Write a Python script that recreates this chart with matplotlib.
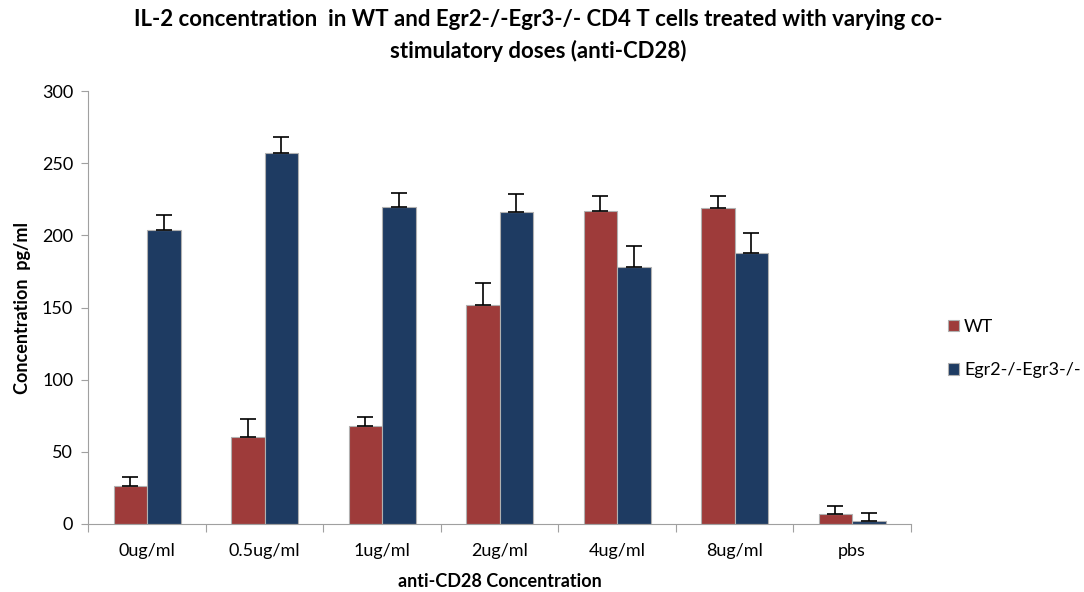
import numpy as np
from matplotlib import pyplot as plt

doses = ['0ug/ml', '0.5ug/ml', '1ug/ml', '2ug/ml', '4ug/ml', '8ug/ml', 'pbs']
wt = [26.5, 60, 68, 152, 217, 219, 6.7]
wt_err = [6, 13, 6, 15, 10, 8, 5.6]
ko = [203.5, 257, 220, 216, 178, 188, 2.3]
ko_err = [11, 11, 9.5, 13, 15, 14, 5]

plt.rcParams['font.family'] = ['Lato', 'DejaVu Sans']

fig = plt.figure(figsize=(10.84, 5.92), dpi=100)
ax = fig.add_axes([0.0816, 0.115, 0.7587, 0.731])

x = np.arange(len(doses))
w = 0.285
red = '#9E3B3A'
blue = '#1E3B62'

ax.bar(x - w / 2, wt, w, color=red, edgecolor='#B0B0B0', linewidth=0.8, label='WT', zorder=2)
ax.bar(x + w / 2, ko, w, color=blue, edgecolor='#B0B0B0', linewidth=0.8, label='Egr2-/-Egr3-/-', zorder=2)
ax.errorbar(x - w / 2, wt, yerr=[np.zeros(len(wt)), wt_err], fmt='none', ecolor='black',
            elinewidth=1.2, capsize=6, capthick=1.2, zorder=3)
ax.errorbar(x + w / 2, ko, yerr=[np.zeros(len(ko)), ko_err], fmt='none', ecolor='black',
            elinewidth=1.2, capsize=6, capthick=1.2, zorder=3)

ax.set_xlim(-0.5, len(doses) - 0.5)
ax.set_ylim(0, 300)
ax.set_yticks(range(0, 301, 50))
ax.set_xticks(np.arange(len(doses) + 1) - 0.5)
ax.set_xticklabels([])
ax.set_xticks(x, minor=True)
ax.set_xticklabels(doses, minor=True)
ax.tick_params(axis='x', which='major', direction='out', length=6, color='#A0A0A0')
ax.tick_params(axis='x', which='minor', length=0, pad=14, labelsize=13)
ax.tick_params(axis='y', direction='out', length=5, color='#A0A0A0', labelsize=13, pad=6)

for s in ['top', 'right']:
    ax.spines[s].set_visible(False)
for s in ['left', 'bottom']:
    ax.spines[s].set_color('#A0A0A0')

ax.set_xlabel('anti-CD28 Concentration', fontsize=13, fontweight='bold', labelpad=10)
ax.set_ylabel('Concentration  pg/ml', fontsize=13, fontweight='bold', labelpad=8)
fig.suptitle('IL-2 concentration  in WT and Egr2-/-Egr3-/- CD4 T cells treated with varying co-\n'
             'stimulatory doses (anti-CD28)', fontsize=16, fontweight='bold', x=0.497, y=0.985,
             linespacing=1.55)

ax.legend(loc='center left', bbox_to_anchor=(1.025, 0.405), frameon=False, fontsize=13,
          handlelength=0.6, handleheight=0.6, handletextpad=0.3, labelspacing=1.5)

plt.savefig('out.png', dpi=100)
